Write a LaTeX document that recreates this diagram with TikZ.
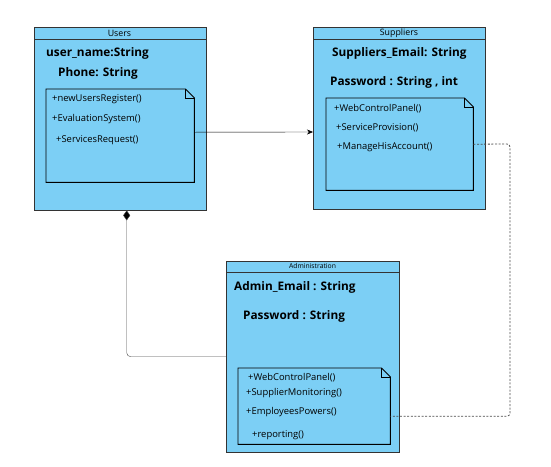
\documentclass[tikz,border=0pt]{standalone}
\usepackage{fontspec}
\setmainfont{Open Sans}
\usetikzlibrary{positioning,arrows.meta}
\definecolor{classblue}{RGB}{124,207,245}
\tikzset{
  classbox/.style={
    anchor = north west,
    inner sep = 0pt,
    shape = rectangle,
    draw = black!80,
    fill = classblue
  },
  notebox/.style={
    anchor = north west,
    inner sep = 0pt,
    shape = rectangle
  },
  notefold/.style={
    draw = black,
    line width = 0.9pt,
    line join = miter
  },
}
\tikzset{
  attr/.style={
    anchor = west,
    inner sep = 0pt,
    font = \bfseries\fontsize{11.8}{14}\selectfont
  },
  meth/.style={
    anchor = west,
    inner sep = 0pt,
    font = \fontsize{9.4}{11}\selectfont
  },
  head/.style={
    inner sep = 0pt,
    font = \fontsize{8.8}{10}\selectfont
  },
  dots/.style={
    draw = black!70,
    line width = 0.8pt,
    dash pattern = on 2pt off 1.6pt
  }
}
\newcommand{\foldnote}[1]{%
  \draw[notefold] (#1.north west) -- ([xshift=-9pt]#1.north east)
    -- ([yshift=-9pt]#1.north east) -- (#1.south east)
    -- (#1.south west) -- cycle;
  \draw[notefold] ([xshift=-9pt]#1.north east)
    -- ([xshift=-9pt,yshift=-9pt]#1.north east) -- ([yshift=-9pt]#1.north east);}
\newcommand{\headline}[1]{%
  \draw[black!80] ([yshift=-12pt]#1.north west) -- ([yshift=-12pt]#1.north east);}

\begin{document}
\begin{tikzpicture}[x=1pt,y=-1pt]
 \useasboundingbox (0,0) rectangle (551,466);
 \node[classbox, minimum width=172pt, minimum height=183pt] (users) at (34,27) {};
 \node[classbox, minimum width=172pt, minimum height=182pt] (suppliers) at (313,27) {};
 \node[classbox, minimum width=173pt, minimum height=191pt] (admin) at (226,261) {};
 \headline{users}
 \headline{suppliers}
 \draw[black!80] ([yshift=-11pt]admin.north west) -- ([yshift=-11pt]admin.north east);
 \node[head] (usershead) at (119.5,33) {Users};
 \node[head] (suppliershead) at (399,33) {Suppliers};
 \node[head, font=\fontsize{6.8}{8}\selectfont] (adminhead) at (312.5,266) {Administration};

 \node[notebox, minimum width=148pt, minimum height=93pt] (usersnote) at (46,89) {};
 \node[notebox, minimum width=147pt, minimum height=92pt] (suppliersnote) at (326,98) {};
 \node[notebox, minimum width=152pt, minimum height=76pt] (adminnote) at (238,368) {};
 \foreach \n in {usersnote,suppliersnote,adminnote}{
   \foldnote{\n}}

 \node[attr] (uname) at (46,53) {user\_name:String};
 \node[attr] (uphone) at (58,73) {Phone: String};
 \node[meth] (ureg) at (52,99) {+newUsersRegister()};
 \node[meth] (ueval) at (52,119) {+EvaluationSystem()};
 \node[meth] (ureq) at (56,140) {+ServicesRequest()};

 \node[attr] (semail) at (332,53) {Suppliers\_Email: String};
 \node[attr] (spass) at (330,82) {Password : String , int};
 \node[meth] (spanel) at (334,109) {+WebControlPanel()};
 \node[meth] (sprov) at (336,128) {+ServiceProvision()};
 \node[meth] (saccount) at (337,147) {+ManageHisAccount()};

 \node[attr] (aemail) at (234,287) {Admin\_Email : String};
 \node[attr] (apass) at (243,316) {Password : String};
 \node[meth] (apanel) at (248,378) {+WebControlPanel()};
 \node[meth] (amon) at (246,393) {+SupplierMonitoring()};
 \node[meth] (apowers) at (246,412) {+EmployeesPowers()};
 \node[meth] (areport) at (252,435) {+reporting()};

 \draw[-{Stealth[length=6pt,width=5pt]}] ([yshift=3.5pt]usersnote.east) -- (suppliers.west |- 0,132);
 \draw[black!70, rounded corners=4pt, {Diamond[length=10pt,width=7pt,fill=black]}-] ([xshift=6.5pt]users.south) |- (admin.west);
 \coordinate (dotbend) at (510,144);
 \draw[dots, rounded corners=3pt] (suppliersnote.east) -- (dotbend) |- ([yshift=-10pt]adminnote.east);
\end{tikzpicture}
\end{document}
